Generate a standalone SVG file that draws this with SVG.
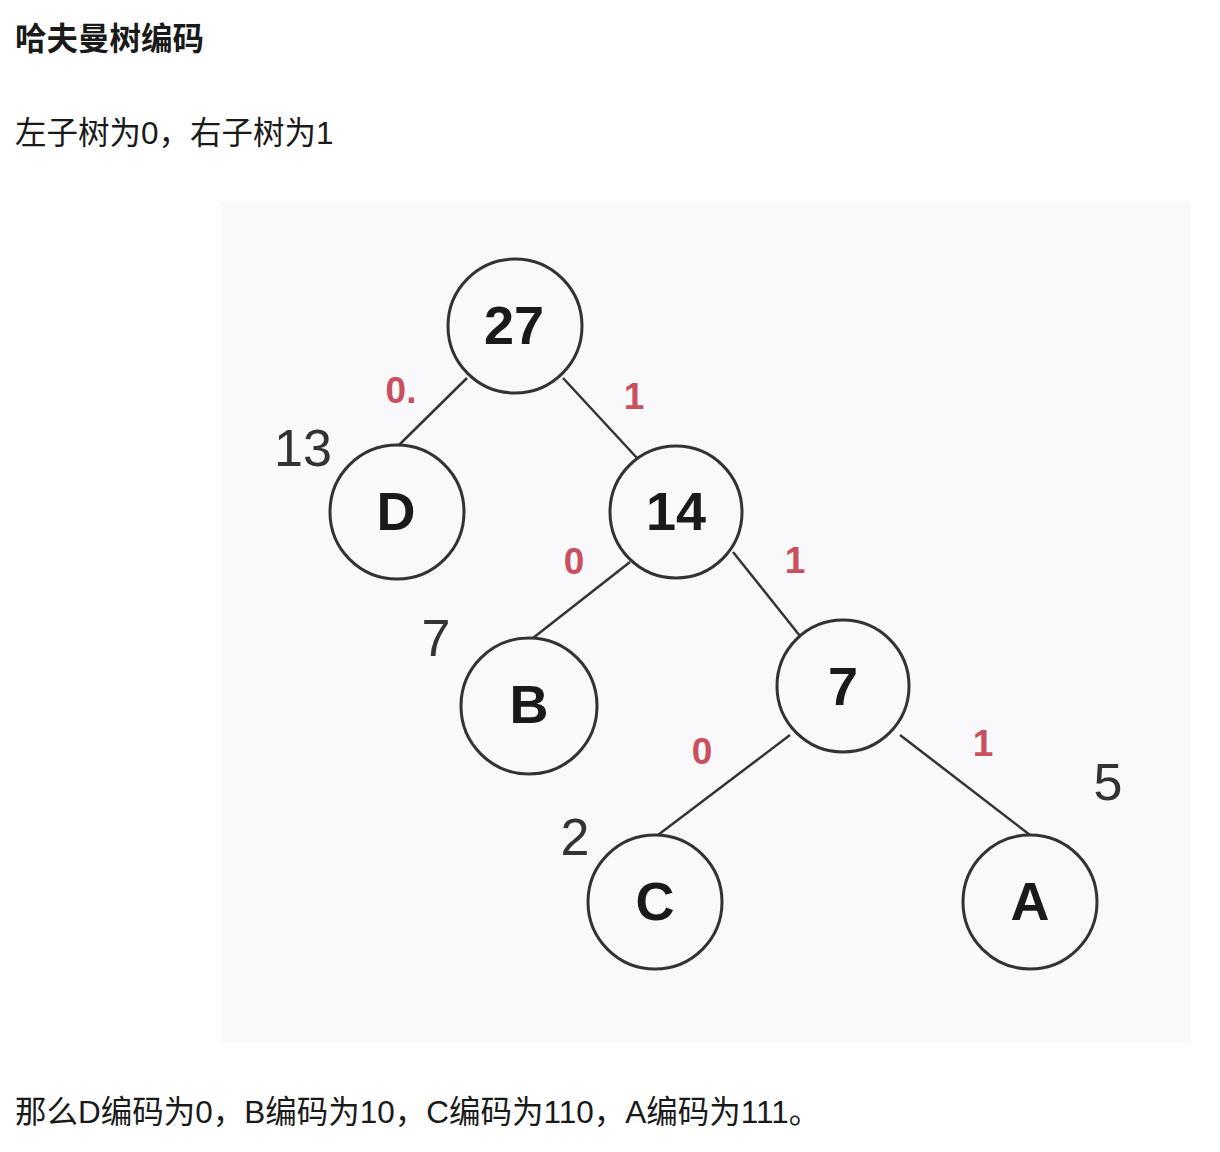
<svg xmlns="http://www.w3.org/2000/svg" width="1220" height="1152" viewBox="0 0 1220 1152">
<style>
.txt{font-family:"Liberation Sans","Noto Sans CJK SC",sans-serif;fill:#1a1a1a;font-size:31.5px}
.h{font-weight:bold}
.node circle{fill:#f9f9f9;stroke:#333;stroke-width:3}
.node text{font-family:"Liberation Sans",Arial,sans-serif;font-weight:bold;font-size:54px;fill:#1a1a1a;text-anchor:middle}
.edge{stroke:#333;stroke-width:2.5;fill:none}
.bit{font-family:"Liberation Sans",Arial,sans-serif;font-weight:bold;font-size:37px;fill:#c8505f;text-anchor:middle}
.w{font-family:"Liberation Sans",Arial,sans-serif;font-size:52px;fill:#333;text-anchor:middle}
</style>
<rect width="1220" height="1152" fill="#fff"/>
<text class="txt h" x="15" y="50">哈夫曼树编码</text>
<text class="txt" x="15" y="144">左子树为0，右子树为1</text>
<rect x="221" y="202" width="969" height="841" fill="#f9f9fb"/>
<g id="connectors">
<line class="edge" x1="467" y1="378" x2="398" y2="446"/>
<line class="edge" x1="563" y1="378" x2="637" y2="458"/>
<line class="edge" x1="630" y1="562" x2="533" y2="638"/>
<line class="edge" x1="733" y1="552" x2="800" y2="636"/>
<line class="edge" x1="790" y1="735" x2="658" y2="835"/>
<line class="edge" x1="900" y1="735" x2="1030" y2="835"/>
<text class="bit" x="401" y="403">0.</text>
<text class="bit" x="634" y="409">1</text>
<text class="bit" x="574" y="574">0</text>
<text class="bit" x="795" y="573">1</text>
<text class="bit" x="702" y="764">0</text>
<text class="bit" x="983" y="756">1</text>
</g>
<g id="n27" class="node"><circle cx="515" cy="326" r="67"/><text x="514" y="344">27</text></g>
<g id="nD" class="node"><circle cx="397" cy="512" r="67"/><text x="396" y="530">D</text></g>
<text class="w" x="303" y="466">13</text>
<g id="n14" class="node"><circle cx="676" cy="512" r="66"/><text x="676" y="530">14</text></g>
<g id="nB" class="node"><circle cx="529" cy="706" r="68"/><text x="529" y="723">B</text></g>
<text class="w" x="436" y="656">7</text>
<g id="n7" class="node"><circle cx="843" cy="686" r="66"/><text x="843" y="705">7</text></g>
<g id="nC" class="node"><circle cx="655" cy="902" r="67"/><text x="655" y="920">C</text></g>
<text class="w" x="575" y="855">2</text>
<g id="nA" class="node"><circle cx="1030" cy="902" r="67"/><text x="1030" y="920">A</text></g>
<text class="w" x="1108" y="800">5</text>
<text class="txt" x="15" y="1123">那么D编码为0，B编码为10，C编码为110，A编码为111。</text>
</svg>
